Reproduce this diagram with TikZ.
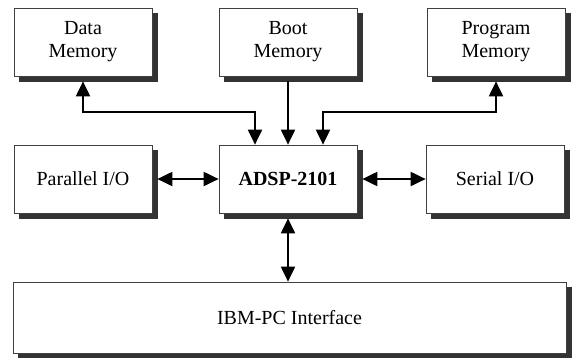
\documentclass[tikz,border=0pt]{standalone}
\usepackage{fontspec}
\setmainfont{Liberation Serif}
\usetikzlibrary{arrows.meta}
\begin{document}
\begin{tikzpicture}[x=1pt,y=1pt,
	box/.style={draw=black!75, line width=0.7pt, fill=white, minimum width=138pt, minimum height=68pt, align=center, font=\fontsize{20}{23}\selectfont},
	shadeline/.style={draw=black!80, line width=5pt, line cap=butt},
	bus/.style={line width=2pt, {Triangle[length=15pt,width=14pt]}-{Triangle[length=15pt,width=14pt]}},
	onebus/.style={line width=2pt, -{Triangle[length=15pt,width=14pt]}}]
	\useasboundingbox (0,0) rectangle (575,-357);
	\node[box] (dmem) at (83,-42) {Data\\Memory};
	\node[box] (bmem) at (288,-42) {Boot\\Memory};
	\node[box] (pmem) at (496,-42) {Program\\Memory};
	\node[box] (pio) at (83,-179) {Parallel I/O};
	\node[box] (dsp) at (288,-179) {\textbf{ADSP-2101}};
	\node[box] (sio) at (495,-179) {Serial I/O};
	\node[box, minimum width=553pt, minimum height=71pt] (pc) at (289.5,-317.5) {IBM-PC Interface};
	% shadow along the right and lower sides
	\foreach \b in {dmem,bmem,pmem,pio,dsp,sio,pc}
		\draw[shadeline] ([xshift=3pt,yshift=-5pt]\b.north east) -- ([xshift=3pt,yshift=-3pt]\b.south east) -- ([xshift=5pt,yshift=-3pt]\b.south west);
	\draw [bus] ([yshift=-5pt]dmem.south) -- ++(0,-31) -| ([xshift=-33pt]dsp.north);
	\draw [onebus] ([yshift=-5pt]bmem.south) -- (dsp.north);
	\draw [bus] ([yshift=-5pt]pmem.south) -- ++(0,-31) -| ([xshift=35pt]dsp.north);
	\draw [bus] ([xshift=5pt]pio.east) -- (dsp.west);
	\draw [bus] ([xshift=5pt]dsp.east) -- (sio.west);
	\draw [bus] ([yshift=-5pt]dsp.south) -- (dsp.south |- pc.north);
\end{tikzpicture}
\end{document}
